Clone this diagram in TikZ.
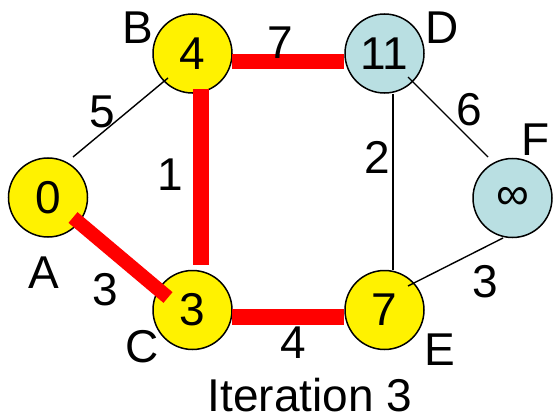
\documentclass[tikz,border=0pt]{standalone}
\usepackage{fontspec}
\setmainfont{Liberation Sans}
\definecolor{vblue}{RGB}{185,223,226}
\begin{document}
\begin{tikzpicture}[x=1pt,y=-1pt,
  big/.style={font=\fontsize{46}{50}\selectfont},
  vtx/.style={circle,draw=black,line width=1.5pt,minimum size=79pt,inner sep=0pt,big},
  yel/.style={vtx,fill=yellow},
  blu/.style={vtx,fill=vblue},
  lbl/.style={big,inner sep=0pt,anchor=center},
  thinedge/.style={line width=1.4pt,draw=black},
  hot/.style={line width=15pt,draw=red,line cap=butt}]
\useasboundingbox (0,0) rectangle (557,420);
% vertices
\node[yel] (A) at (48,197.5) {0};
\node[yel] (B) at (192.5,53.5) {4};
\node[yel] (C) at (192.5,310) {3};
\node[blu] (D) at (384.5,53.5) {11};
\node[yel] (E) at (384.5,310) {7};
\node[blu] (F) at (512.5,198) {∞};
% thin edges
\draw[thinedge] ([shift={(25,-40.5)}]A.center) -- ([shift={(-24.5,24.5)}]B.center);
\draw[thinedge] ([shift={(8.5,40.5)}]D.center) -- ([shift={(8.5,-40)}]E.center);
\draw[thinedge] ([shift={(23.5,23.5)}]D.center) -- ([shift={(-24.5,-41)}]F.center);
\draw[thinedge] ([shift={(23.5,-24)}]E.center) -- ([shift={(-9.5,40)}]F.center);
% tree edges
\draw[hot] ([shift={(39.5,8)}]B.center) -- ([shift={(-40.5,8)}]D.center);
\draw[hot,line width=16pt] ([shift={(8.5,35.5)}]B.center) -- ([shift={(8.5,-45)}]C.center);
\draw[hot,line width=14pt] ([shift={(25,20)}]A.center) -- ([shift={(-24.5,-12.5)}]C.center);
\draw[hot,line width=16pt] ([shift={(39.5,7)}]C.center) -- ([shift={(-40.5,7)}]E.center);
% vertex names
\node[lbl] (nA) at (44,273) {A};
\node[lbl] (nB) at (138,28) {B};
\node[lbl] (nC) at (142,347) {C};
\node[lbl] (nD) at (442,28) {D};
\node[lbl] (nE) at (440,350) {E};
\node[lbl] (nF) at (536,140) {F};
% weights
\node[lbl] (wAB) at (102,112) {5};
\node[lbl] (wBD) at (280,43) {7};
\node[lbl] (wBC) at (170,175) {1};
\node[lbl] (wDE) at (377,157) {2};
\node[lbl] (wDF) at (469,110) {6};
\node[lbl] (wEF) at (485,282) {3};
\node[lbl] (wAC) at (105,290) {3};
\node[lbl] (wCE) at (293,343) {4};
% caption
\node[lbl] (cap) at (310,395.5) {Iteration 3};
\end{tikzpicture}
\end{document}
